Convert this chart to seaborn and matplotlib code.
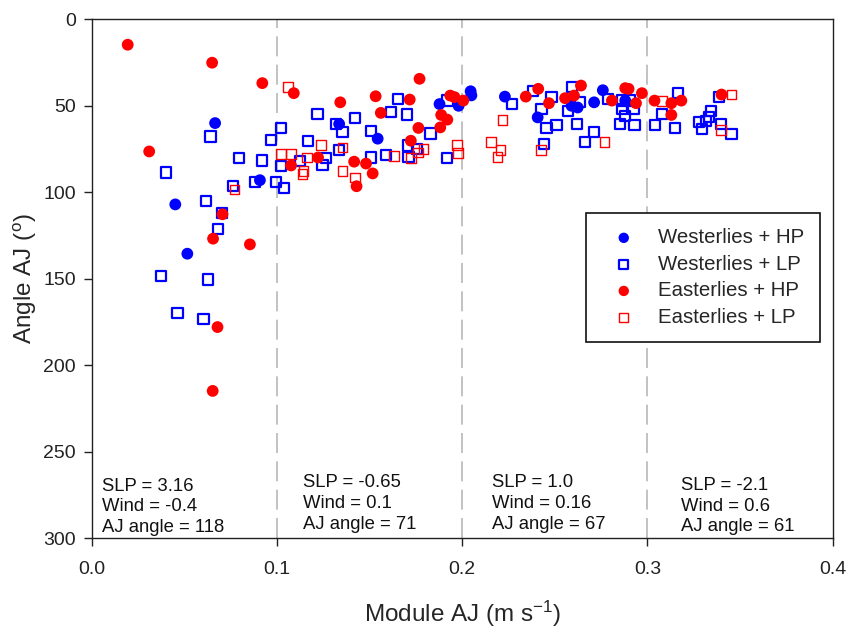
import numpy as np
import pandas as pd
import matplotlib
matplotlib.use("Agg")
import matplotlib.pyplot as plt
import seaborn as sns

# ---------------- data ----------------
w_hp_x = [0.0665, 0.0907, 0.045, 0.0515, 0.1335, 0.1543, 0.1877, 0.198, 0.2045, 0.2049,
          0.223, 0.2407, 0.2623, 0.259, 0.2712, 0.2759, 0.288]
w_hp_y = [60, 93, 107, 135.5, 60.5, 69, 49, 50, 41.6, 44,
          44.7, 56.7, 51, 50, 48, 41, 47]

w_lp_x = [0.064, 0.102, 0.0965, 0.0793, 0.0918, 0.102, 0.0401, 0.088, 0.0992, 0.1037,
          0.0762, 0.0616, 0.0703, 0.0681, 0.0374, 0.0625, 0.0462, 0.0602, 0.1651, 0.1615,
          0.170, 0.1218, 0.142, 0.1317, 0.1353, 0.1507, 0.1167, 0.1335, 0.1828, 0.1705,
          0.1754, 0.1919, 0.1709, 0.1588, 0.1507, 0.1266, 0.1245, 0.1122, 0.192, 0.2269,
          0.2383, 0.2482, 0.2428, 0.2455, 0.2509, 0.2443, 0.2591, 0.2569, 0.2636, 0.2618,
          0.2712, 0.2663, 0.2786, 0.2862, 0.2907, 0.2862, 0.2925, 0.2853, 0.2930, 0.288,
          0.3164, 0.3079, 0.3042, 0.315, 0.3277, 0.3314, 0.3341, 0.3332, 0.3295, 0.3395,
          0.3386, 0.3454]
w_lp_y = [67.7, 63, 70, 80, 81.6, 85, 88.6, 94, 94.2, 97.3,
          96.5, 105, 112, 121.4, 148.5, 150.4, 169.8, 173.2, 46, 53.8,
          55, 54.7, 57, 60.5, 65, 64.4, 70.2, 75.6, 66, 73,
          75, 80.4, 79.8, 78.3, 79.9, 80, 84.3, 81.8, 47, 49,
          41.6, 44.7, 51.8, 63, 61, 72, 39, 53.2, 48, 60.5,
          65, 70.8, 46, 47, 47, 51.8, 51.8, 60.5, 61, 55.7,
          42.7, 54.7, 61, 63, 59.6, 58.6, 52.8, 56.7, 63.4, 60.5,
          44.7, 66.3]

e_hp_x = [0.0193, 0.0649, 0.092, 0.109, 0.0309, 0.1075, 0.0705, 0.0654, 0.0853, 0.0678,
          0.0652, 0.1769, 0.1532, 0.1716, 0.1341, 0.1935, 0.1958, 0.2005, 0.156, 0.1886,
          0.1919, 0.1881, 0.1763, 0.1722, 0.1221, 0.1416, 0.148, 0.1516, 0.1429, 0.2343,
          0.241, 0.2468, 0.2641, 0.2555, 0.2603, 0.2808, 0.288, 0.2898, 0.297, 0.2938,
          0.3038, 0.3129, 0.3183, 0.3129, 0.340]
e_hp_y = [14.7, 25.1, 36.9, 42.7, 76.4, 84.5, 112.7, 126.8, 130.1, 177.9,
          214.8, 34.4, 44.5, 46.4, 48, 44.1, 45, 47, 54.1, 55.3,
          58, 62.5, 62.8, 70.2, 79.9, 82.3, 83.4, 89.1, 96.5, 44.7,
          40.2, 48.5, 38.3, 45.6, 44.1, 47, 39.8, 40.2, 42.7, 48.5,
          47, 48.5, 47, 55.3, 43.5]

e_lp_x = [0.106, 0.102, 0.077, 0.1237, 0.1353, 0.179, 0.176, 0.197, 0.1977, 0.1724,
          0.1633, 0.116, 0.1077, 0.1142, 0.1137, 0.1353, 0.1422, 0.2217, 0.2153, 0.2206,
          0.219, 0.2423, 0.2768, 0.3079, 0.3454, 0.3395]
e_lp_y = [39.3, 77.9, 98.4, 72.7, 74.1, 75, 77, 72.5, 77.3, 80.4,
          78.9, 79.9, 77.9, 87.6, 89.5, 87.6, 91.4, 58, 70.8, 75.6,
          79.5, 75.4, 70.8, 47, 43.5, 64]

group_labels = ["Westerlies + HP", "Westerlies + LP", "Easterlies + HP", "Easterlies + LP"]
x_ticks = [0.0, 0.1, 0.2, 0.3, 0.4]
y_ticks = [0, 50, 100, 150, 200, 250, 300]
div_lines = [0.1, 0.2, 0.3]
annot_x = [0.0054, 0.114, 0.216, 0.318]
annot_text = ["SLP = 3.16\nWind = -0.4\nAJ angle = 118",
              "SLP = -0.65\nWind = 0.1\nAJ angle = 71",
              "SLP = 1.0\nWind = 0.16\nAJ angle = 67",
              "SLP = -2.1\nWind = 0.6\nAJ angle = 61"]
annot_top = [265.0, 263.0, 263.0, 264.5]

df = pd.concat([
    pd.DataFrame({"x": w_lp_x, "y": w_lp_y, "g": group_labels[1]}),
    pd.DataFrame({"x": w_hp_x, "y": w_hp_y, "g": group_labels[0]}),
    pd.DataFrame({"x": e_lp_x, "y": e_lp_y, "g": group_labels[3]}),
    pd.DataFrame({"x": e_hp_x, "y": e_hp_y, "g": group_labels[2]}),
], ignore_index=True)

# ---------------- style ----------------
sns.set_style("ticks")
plt.rcParams["font.family"] = ["Liberation Sans", "DejaVu Sans"]
plt.rcParams["mathtext.fontset"] = "custom"
plt.rcParams["mathtext.rm"] = "Liberation Sans"
plt.rcParams["mathtext.it"] = "Liberation Sans:italic"
plt.rcParams["mathtext.bf"] = "Liberation Sans:bold"

fig = plt.figure(figsize=(8.46, 6.28), dpi=100)
ax = fig.add_axes([0.1087, 0.1428, 0.8755, 0.8265])

styles = {
    group_labels[1]: dict(marker="s", s=54, facecolor="none", edgecolor="#0000ff", linewidth=1.6, color="#0000ff"),
    group_labels[0]: dict(marker="o", s=72, edgecolor="none", linewidth=0, color="#0000ff"),
    group_labels[3]: dict(marker="s", s=50, facecolor="none", edgecolor="#ff0000", linewidth=1.0, color="#ff0000"),
    group_labels[2]: dict(marker="o", s=72, edgecolor="none", linewidth=0, color="#ff0000"),
}

for g in [group_labels[1], group_labels[0], group_labels[3], group_labels[2]]:
    sub = df[df["g"] == g]
    sns.scatterplot(data=sub, x="x", y="y", ax=ax, label=g, zorder=3, **styles[g])

for xv in div_lines:
    ax.axvline(xv, color="#b8b8b8", lw=1.2, dashes=(12, 5), zorder=1)

for xa, ya, t in zip(annot_x, annot_top, annot_text):
    ax.text(xa, ya, t, fontsize=13.3, va="top", ha="left", linespacing=1.28, color="#111111")

ax.set_xlim(0, 0.4)
ax.set_ylim(300, 0)
ax.set_xticks(x_ticks)
ax.set_xticklabels([f"{v:.1f}" for v in x_ticks])
ax.set_yticks(y_ticks)
ax.tick_params(axis="both", labelsize=14, length=5.5, width=1.0, direction="out", colors="#222222")
ax.tick_params(axis="y", pad=6)
ax.tick_params(axis="x", pad=11)
for sp in ax.spines.values():
    sp.set_visible(True)
    sp.set_linewidth(1.0)
    sp.set_color("#222222")

ax.set_xlabel("Module AJ (m s$^{-1}$)", fontsize=17.5, labelpad=15)
ax.set_ylabel("Angle AJ ($^{\\mathrm{o}}$)", fontsize=17.5, labelpad=3)

handles, labels = ax.get_legend_handles_labels()
order = [labels.index(l) for l in group_labels]
leg = ax.legend([handles[i] for i in order], [labels[i] for i in order],
                loc="upper left", bbox_to_anchor=(0.667, 0.627), borderaxespad=0,
                fontsize=14.7, frameon=True, fancybox=False, shadow=False,
                markerscale=0.88, handlelength=2.2, handletextpad=0.6,
                labelspacing=0.37, borderpad=0.75, scatterpoints=1)
leg.get_frame().set_edgecolor("#111111")
leg.get_frame().set_linewidth(1.2)
leg.get_frame().set_alpha(1)
leg.set_zorder(5)

fig.savefig("out.png", dpi=100)
